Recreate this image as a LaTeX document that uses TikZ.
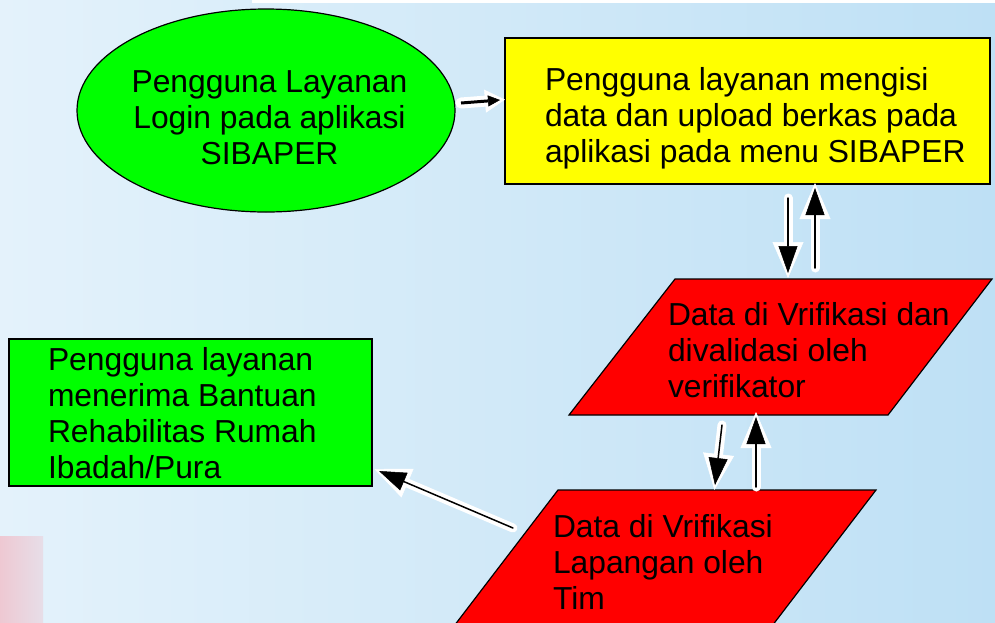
\documentclass[tikz,border=0pt]{standalone}
\usepackage{fontspec}
\setmainfont{Liberation Sans}
\usetikzlibrary{arrows.meta,shapes.geometric}
\definecolor{bgL}{RGB}{228,242,251}
\definecolor{bgR}{RGB}{190,224,245}
\definecolor{pinkL}{RGB}{238,200,210}
\definecolor{pinkR}{RGB}{231,222,232}
\definecolor{pgreen}{RGB}{0,255,0}
\definecolor{pyellow}{RGB}{255,255,0}
\definecolor{pred}{RGB}{255,0,0}
\begin{document}
\begin{tikzpicture}[x=1pt,y=-1pt,
  box/.style={draw=black, line width=1.2pt, inner sep=0pt, outer sep=0pt},
  parabox/.style={draw=black, line width=1.2pt, fill=pred, line join=miter},
  txt/.style={inner sep=0pt, outer sep=0pt, font=\fontsize{31.8}{36}\selectfont},
  bigarrow/.style={line width=1.5pt, draw=black, line cap=round,
    -{Triangle[length=27pt,width=19pt,line width=0.5pt]},
    preaction={draw=white, line width=9pt, line cap=round, shorten >=-5pt,
      -{Triangle[length=36pt,width=31pt,line width=0.5pt]}}},
  smallarrow/.style={line width=3pt, draw=black,
    -{Triangle[length=12pt,width=11pt,line width=0.5pt]},
    preaction={draw=white, line width=11pt, line cap=round, shorten >=-5pt,
      -{Triangle[length=20pt,width=23pt,line width=0.5pt]}}}
]
\useasboundingbox (0,0) rectangle (995,622);
% background
\fill[left color=bgL, right color=bgR] (0,0) rectangle (995,622);
\fill[white] (252,0) rectangle (995,3);
\fill[left color=pinkL, right color=pinkR] (0,536) rectangle (43,622);

% shapes
\node[box, ellipse, fill=pgreen, minimum width=378pt, minimum height=203pt] (login) at (266,110.5) {};
\node[box, rectangle, fill=pyellow, minimum width=485pt, minimum height=146pt] (isi) at (747.5,111) {};
\draw[parabox] (675,279) coordinate (verifTL) -- (992,279) coordinate (verifTR)
   -- (888,415) coordinate (verifBR) -- (569,415) coordinate (verifBL) -- cycle;
\draw[parabox] (558,490) coordinate (lapTL) -- (876,490) coordinate (lapTR)
   -- (772,626) coordinate (lapBR) -- (454,626) coordinate (lapBL) -- cycle;
\node[box, rectangle, fill=pgreen, minimum width=363pt, minimum height=147pt] (terima) at (190.5,412.5) {};

% texts
\node[txt, anchor=base] (tlogin) at (269.5,92) {\begin{tabular}[t]{@{}c@{}}Pengguna Layanan\\Login pada aplikasi\\SIBAPER\end{tabular}};
\node[txt, anchor=base west] (tisi) at (545,90) {\begin{tabular}[t]{@{}l@{}}Pengguna layanan mengisi\\data dan upload berkas pada\\aplikasi pada menu SIBAPER\end{tabular}};
\node[txt, anchor=base west] (tverif) at (668,325) {\begin{tabular}[t]{@{}l@{}}Data di Vrifikasi dan\\divalidasi oleh\\verifikator\end{tabular}};
\node[txt, anchor=base west] (tlap) at (553,537) {\begin{tabular}[t]{@{}l@{}}Data di Vrifikasi\\Lapangan oleh\\Tim\end{tabular}};
\node[txt, anchor=base west] (tterima) at (48,370) {\begin{tabular}[t]{@{}l@{}}Pengguna layanan\\menerima Bantuan\\Rehabilitas Rumah\\Ibadah/Pura\end{tabular}};

% arrow end points
\coordinate (a1s) at (461,103);
\coordinate (a1e) at (500,100);
\coordinate (a2s) at (788,198);
\coordinate (a2e) at (788,273);
\coordinate (a3s) at (815,268);
\coordinate (a3e) at (815,188);
\coordinate (a4s) at (722,425);
\coordinate (a4e) at (715,485);
\coordinate (a5s) at (756,487);
\coordinate (a5e) at (756,417);
\coordinate (a6s) at (513,528);
\coordinate (a6e) at (379,471);

\draw[smallarrow] (a1s) -- (a1e);
\draw[bigarrow] (a2s) -- (a2e);
\draw[bigarrow] (a3s) -- (a3e);
\draw[bigarrow] (a4s) -- (a4e);
\draw[bigarrow] (a5s) -- (a5e);
\draw[bigarrow] (a6s) -- (a6e);
\end{tikzpicture}
\end{document}
